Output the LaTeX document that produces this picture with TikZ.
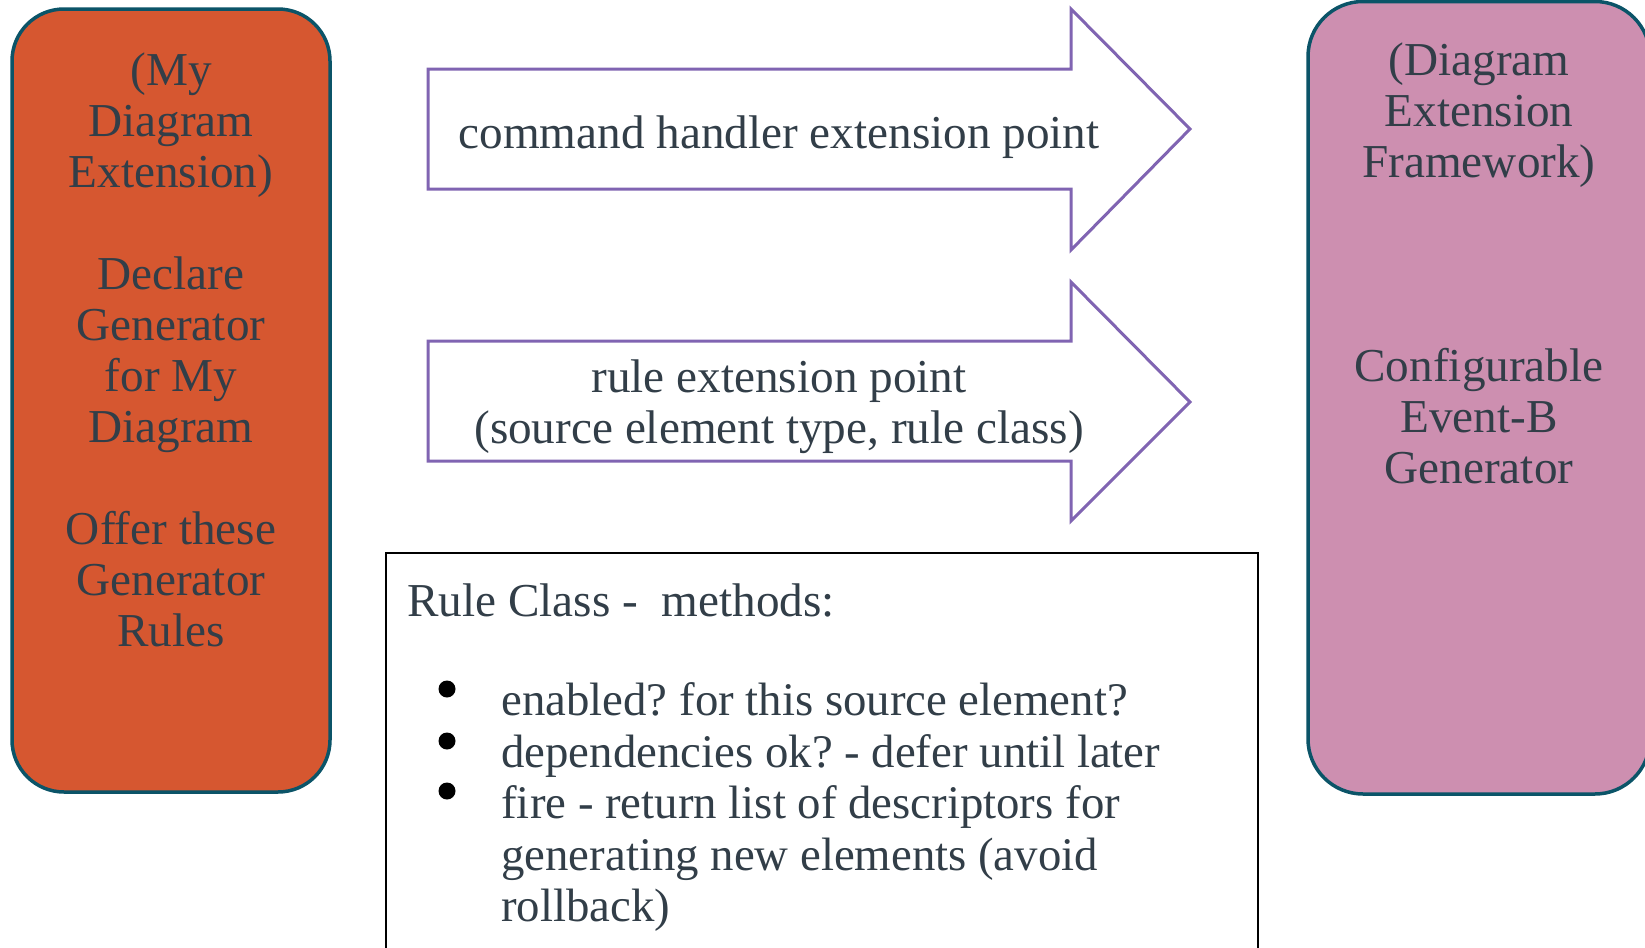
\documentclass[tikz,border=0pt]{standalone}
\usepackage{fontspec}
\setmainfont{Liberation Serif}
\frenchspacing
\definecolor{inkslate}{HTML}{323E48}
\definecolor{burnt}{HTML}{D65730}
\definecolor{mauve}{HTML}{CD8FB0}
\definecolor{tealedge}{HTML}{0B5468}
\definecolor{arrowline}{HTML}{8064B2}
\tikzset{
  bodytext/.style={font=\fontsize{23.6pt}{25.5pt}\selectfont, text=inkslate, inner sep=0pt},
  listtext/.style={font=\fontsize{23.4pt}{25.8pt}\selectfont, text=inkslate, inner sep=0pt},
  sidebox/.style={draw=tealedge, line width=1.75pt, rounded corners=26pt, inner sep=0pt},
  fatarrow/.style={draw=arrowline, line width=1.5pt, fill=white, line join=miter},
  notebox/.style={draw=black, line width=1pt, fill=white, inner sep=0pt},
  dot/.style={fill=black}
}
\begin{document}
\begin{tikzpicture}[x=0.5pt, y=-0.5pt]
\useasboundingbox (0,0) rectangle (1645,948);
\clip (0,0) rectangle (1645,948);
\fill[white] (0,0) rectangle (1645,948);

% side boxes
\node[sidebox, fill=burnt, minimum width=159pt, minimum height=391.5pt] (mine) at (171,400.5) {};
\node[sidebox, fill=mauve, rounded corners=27.5pt, minimum width=171pt, minimum height=396.25pt] (framework) at (1479,397.75) {};

\node[bodytext, align=center, anchor=north] (minetext) at (171,49)
  {\strut(My\\Diagram\\Extension)\\\strut\\Declare\\Generator\\for My\\Diagram\\\strut\\Offer these\\Generator\\Rules};
\node[bodytext, align=center, anchor=north] (frametext) at (1479,39)
  {\strut(Diagram\\Extension\\Framework)\\\strut\\\strut\\\strut\\Configurable\\Event-B\\Generator};

% block arrows
\draw[fatarrow] (428,69) -- (1071,69) -- (1071,9) -- (1190,129) -- (1071,250) -- (1071,189) -- (428,189) -- cycle;
\node[bodytext] (cmdpoint) at (779,137) {command handler extension point};

\draw[fatarrow] (428,341) -- (1071,341) -- (1071,282) -- (1190,402) -- (1071,521) -- (1071,461) -- (428,461) -- cycle;
\node[bodytext, align=center] (rulepoint) at (779,407) {rule extension point\\(source element type, rule class)};

% rule class notes
\node[notebox, minimum width=436pt, minimum height=203.5pt] (rulebox) at (822,756.5) {};
\node[bodytext, anchor=west] (ruletitle) at (407,600) {Rule Class -\ \ methods:};
\node[listtext, align=left, anchor=north west] (rulelist) at (501,679)
  {\strut enabled? for this source element?\\dependencies ok? - defer until later\\fire - return list of descriptors for\\generating new elements (avoid\\rollback)};
\fill[dot] (447,689) circle[radius=8.5];
\fill[dot] (447,741) circle[radius=8.5];
\fill[dot] (447,791) circle[radius=8.5];
\end{tikzpicture}
\end{document}
